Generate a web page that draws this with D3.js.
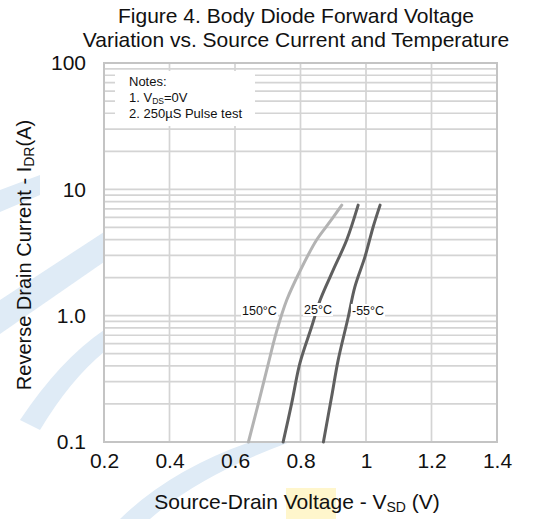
<!DOCTYPE html>
<html>
<head>
<meta charset="utf-8">
<script src="https://cdn.jsdelivr.net/npm/d3@7"></script>
<style>
  body { margin: 0; background: #fff; }
  svg { display: block; font-family: "Liberation Sans", Arial, sans-serif; }
</style>
</head>
<body>
<div id="chart"></div>
<script>
// curve data: source-drain voltage (V) and reverse drain current (A)
var vsd150 = [0.641, 0.671, 0.700, 0.727, 0.758, 0.800, 0.849, 0.890, 0.926];
var idr150 = [0.1, 0.2, 0.4, 0.75, 1.33, 2.3, 3.97, 5.54, 7.5];
var vsd25 = [0.747, 0.773, 0.798, 0.834, 0.860, 0.900, 0.941, 0.976];
var idr25 = [0.1, 0.202, 0.419, 0.817, 1.33, 2.3, 3.97, 7.5];
var vsdM55 = [0.870, 0.895, 0.915, 0.946, 0.966, 0.997, 1.022, 1.043];
var idrM55 = [0.1, 0.228, 0.445, 0.98, 1.69, 2.93, 5.06, 7.5];

var seriesNames = ["150°C", "25°C", "-55°C"];
var xTicks = [0.2, 0.4, 0.6, 0.8, 1.0, 1.2, 1.4];
var xTickLabels = ["0.2", "0.4", "0.6", "0.8", "1", "1.2", "1.4"];
var yTicks = [0.1, 1, 10, 100];
var yTickLabels = ["0.1", "1.0", "10", "100"];

var width = 546, height = 519;
var margin = {top: 63, right: 49, bottom: 77, left: 104};

var svg = d3.select("#chart").append("svg").attr("width", width).attr("height", height);

// faint watermark bands behind the chart
var wm = svg.append("g").attr("fill", "#dfebf6");
wm.append("path").attr("d", "M0,300 L104,232 L104,262 L0,334 Z");
wm.append("path").attr("d", "M20,420 Q60,360 104,330 L104,352 Q70,380 40,430 Z");
wm.append("path").attr("d", "M120,519 Q170,470 250,442 L290,442 Q200,475 150,519 Z");
wm.append("path").attr("d", "M0,190 L40,175 L40,195 L0,212 Z");
svg.append("rect").attr("x", 286).attr("y", 488).attr("width", 50).attr("height", 31)
    .attr("fill", "#fff6cc");

var x = d3.scaleLinear().domain([0.2, 1.4]).range([margin.left, width - margin.right]);
var y = d3.scaleLog().domain([0.1, 100]).range([height - margin.bottom, margin.top]);

// white plot background
svg.append("rect").attr("x", x(0.2)).attr("y", y(100))
    .attr("width", x(1.4) - x(0.2)).attr("height", y(0.1) - y(100)).attr("fill", "#fff");

// grid: every log minor tick horizontally, every 0.2 V vertically
var grid = svg.append("g").attr("stroke", "#d4d4d4").attr("stroke-width", 1.7);
grid.selectAll("line.h").data(y.ticks()).enter().append("line")
    .attr("x1", x(0.2)).attr("x2", x(1.4))
    .attr("y1", d => y(d)).attr("y2", d => y(d));
grid.selectAll("line.v").data(xTicks).enter().append("line")
    .attr("x1", d => x(d)).attr("x2", d => x(d))
    .attr("y1", y(100)).attr("y2", y(0.1));

// plot border
svg.append("rect").attr("x", x(0.2)).attr("y", y(100))
    .attr("width", x(1.4) - x(0.2)).attr("height", y(0.1) - y(100))
    .attr("fill", "none").attr("stroke", "#c4c4c4").attr("stroke-width", 2);

// notes box
var notes = svg.append("g").attr("font-size", 13).attr("fill", "#111");
notes.append("rect").attr("x", 115).attr("y", 71).attr("width", 140).attr("height", 55).attr("fill", "#fff");
notes.append("text").attr("x", 129).attr("y", 86).text("Notes:");
var n1 = notes.append("text").attr("x", 129).attr("y", 102);
n1.append("tspan").text("1. V");
n1.append("tspan").attr("font-size", 8.5).attr("dy", 2).text("DS");
n1.append("tspan").attr("dy", -2).text("=0V");
notes.append("text").attr("x", 129).attr("y", 118).text("2. 250\u00b5S Pulse test");

// curves
var curves = [
    {name: seriesNames[0], v: vsd150, i: idr150, color: "#b3b3b3"},
    {name: seriesNames[1], v: vsd25, i: idr25, color: "#5f5f5f"},
    {name: seriesNames[2], v: vsdM55, i: idrM55, color: "#5f5f5f"}
];
var line = d3.line().x(d => x(d[0])).y(d => y(d[1])).curve(d3.curveCatmullRom);
svg.selectAll("path.curve").data(curves).enter().append("path")
    .attr("class", "curve")
    .attr("d", d => line(d.v.map((v, k) => [v, d.i[k]])))
    .attr("fill", "none").attr("stroke", d => d.color).attr("stroke-width", 3)
    .attr("stroke-linecap", "round");

// curve labels on white patches
var labelPos = [{x: 242, y: 315}, {x: 304, y: 314}, {x: 352, y: 315}];
curves.forEach(function(c, k) {
    var t = svg.append("text").attr("x", labelPos[k].x).attr("y", labelPos[k].y)
        .attr("font-size", 12.5).attr("fill", "#111").text(c.name);
    var b = t.node().getBBox();
    svg.insert("rect", function() { return t.node(); })
        .attr("x", b.x - 1).attr("y", b.y).attr("width", b.width + 2).attr("height", b.height - 1)
        .attr("fill", "#fff");
});

// axes
var xAxis = svg.append("g").attr("transform", "translate(0," + y(0.1) + ")")
    .call(d3.axisBottom(x).tickValues(xTicks).tickSize(0).tickPadding(11)
        .tickFormat((d, k) => xTickLabels[k]));
xAxis.select(".domain").remove();
xAxis.selectAll("text").attr("font-size", 21).attr("fill", "#111")
    .attr("font-family", "'Liberation Sans', Arial, sans-serif");

var yAxis = svg.append("g").attr("transform", "translate(" + x(0.2) + ",0)")
    .call(d3.axisLeft(y).tickValues(yTicks).tickSize(0).tickPadding(18)
        .tickFormat((d, k) => yTickLabels[k]));
yAxis.select(".domain").remove();
yAxis.selectAll("text").attr("font-size", 21).attr("fill", "#111")
    .attr("font-family", "'Liberation Sans', Arial, sans-serif");

// title
svg.append("text").attr("x", 296).attr("y", 23).attr("text-anchor", "middle")
    .attr("font-size", 21).attr("fill", "#111").text("Figure 4. Body Diode Forward Voltage");
svg.append("text").attr("x", 296).attr("y", 47).attr("text-anchor", "middle")
    .attr("font-size", 21).attr("fill", "#111").text("Variation vs. Source Current and Temperature");

// x axis label
var xl = svg.append("text").attr("x", 297).attr("y", 509).attr("text-anchor", "middle")
    .attr("font-size", 21).attr("fill", "#111");
xl.append("tspan").text("Source-Drain Voltage - V");
xl.append("tspan").attr("font-size", 14).attr("dy", 3).text("SD");
xl.append("tspan").attr("dy", -3).text(" (V)");

// y axis label
var yl = svg.append("text").attr("transform", "translate(31,255) rotate(-90)")
    .attr("text-anchor", "middle").attr("font-size", 20).attr("fill", "#111");
yl.append("tspan").text("Reverse Drain Current - I");
yl.append("tspan").attr("font-size", 14).attr("dy", 3).text("DR");
yl.append("tspan").attr("dy", -3).text("(A)");
</script>
</body>
</html>
